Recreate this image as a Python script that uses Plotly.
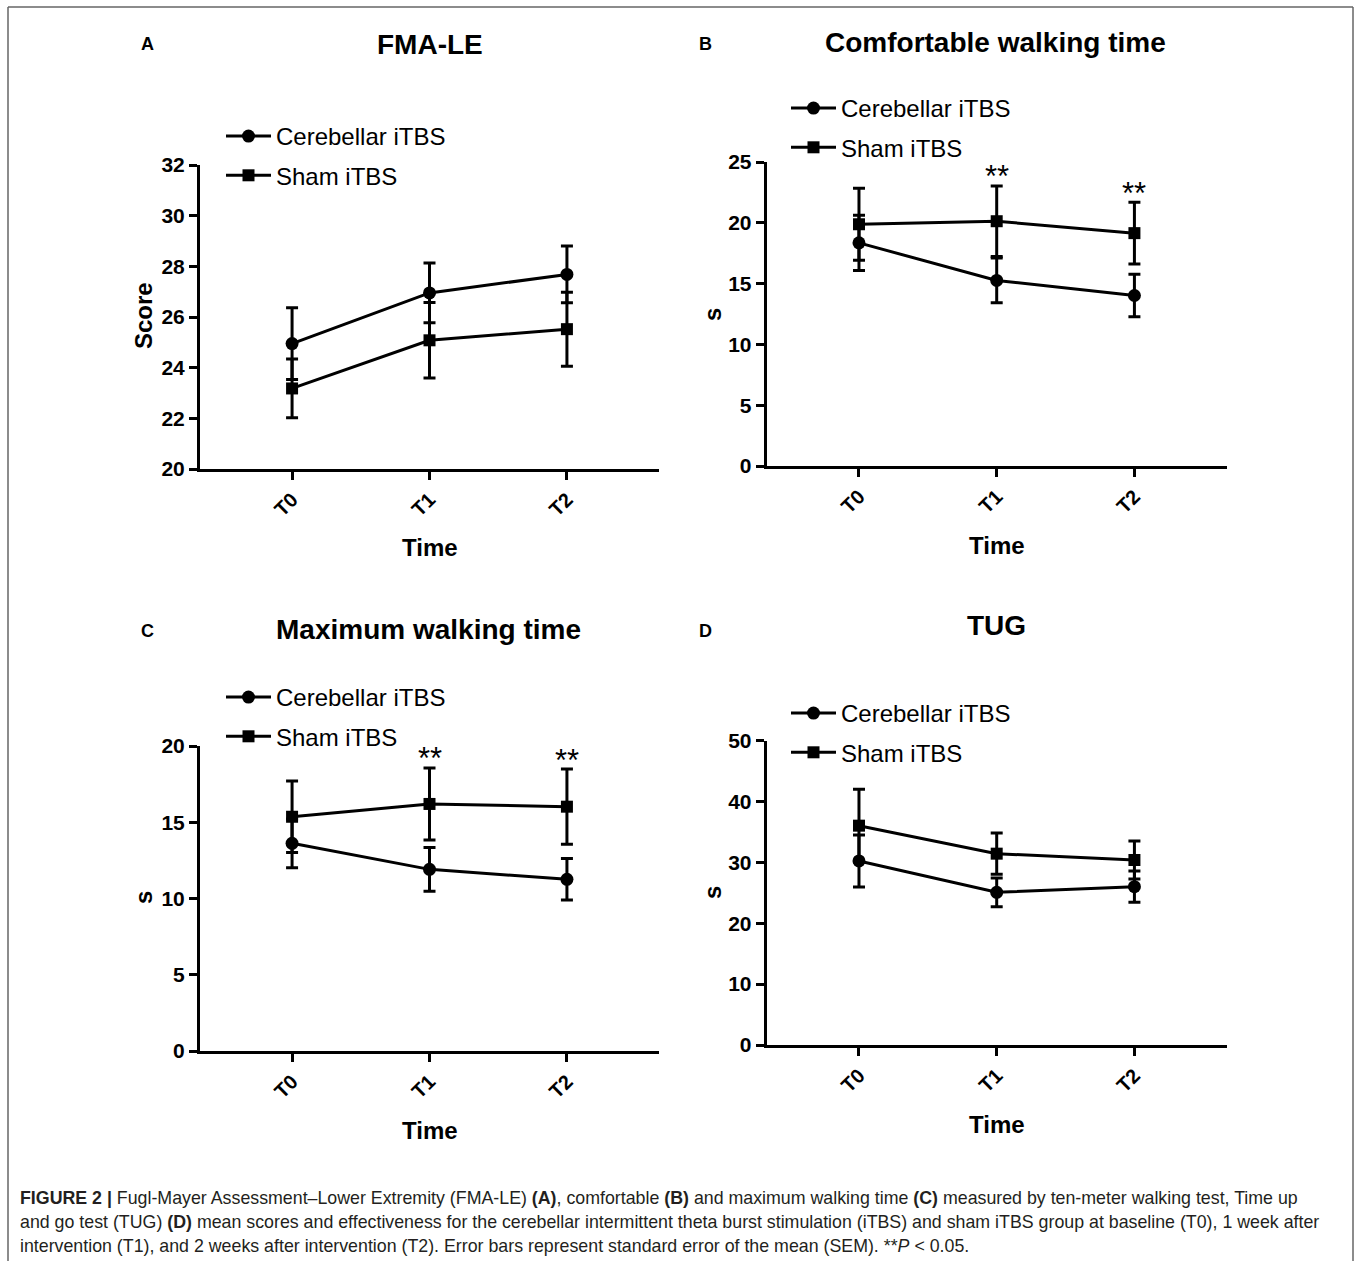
import plotly.graph_objects as go

W, H = 1358, 1261

times = ["T0", "T1", "T2"]

# Panel A: FMA-LE
fma_cer = [24.95, 26.95, 27.68]
fma_cer_sem = [1.42, 1.18, 1.12]
fma_sham = [23.18, 25.08, 25.52]
fma_sham_sem = [1.16, 1.49, 1.46]

# Panel B: comfortable walking time
cwt_cer = [18.35, 15.26, 14.02]
cwt_cer_sem = [2.27, 1.84, 1.75]
cwt_sham = [19.88, 20.13, 19.15]
cwt_sham_sem = [2.96, 2.90, 2.54]

# Panel C: maximum walking time
mwt_cer = [13.62, 11.91, 11.26]
mwt_cer_sem = [1.60, 1.44, 1.36]
mwt_sham = [15.36, 16.20, 16.02]
mwt_sham_sem = [2.34, 2.36, 2.47]

# Panel D: TUG
tug_cer = [30.24, 25.09, 26.02]
tug_cer_sem = [4.27, 2.36, 2.57]
tug_sham = [36.04, 31.44, 30.40]
tug_sham_sem = [5.98, 3.40, 3.12]

# significance markers (time points with **)
cwt_sig = ["T1", "T2"]
mwt_sig = ["T1", "T2"]

panel_titles = ["FMA-LE", "Comfortable walking time", "Maximum walking time", "TUG"]
panel_letters = ["A", "B", "C", "D"]
y_titles = ["Score", "s", "s", "s"]
group_names = ["Cerebellar iTBS", "Sham iTBS"]

FONT = "Liberation Sans, Arial, Helvetica, sans-serif"

def px(xp):
    return xp / W

def py(yp):
    return 1 - yp / H

fig = go.Figure()

panels = [
    dict(cer=fma_cer, cs=fma_cer_sem, sham=fma_sham, ss=fma_sham_sem, yr=[20, 32], dt=2,
         xd=[200, 659], yd=[469, 165], sig=[]),
    dict(cer=cwt_cer, cs=cwt_cer_sem, sham=cwt_sham, ss=cwt_sham_sem, yr=[0, 25], dt=5,
         xd=[766.7, 1226.7], yd=[466, 162], sig=cwt_sig),
    dict(cer=mwt_cer, cs=mwt_cer_sem, sham=mwt_sham, ss=mwt_sham_sem, yr=[0, 20], dt=5,
         xd=[200, 659], yd=[1051, 746], sig=mwt_sig),
    dict(cer=tug_cer, cs=tug_cer_sem, sham=tug_sham, ss=tug_sham_sem, yr=[0, 50], dt=10,
         xd=[766.7, 1226.7], yd=[1045, 740.7], sig=[]),
]

legend_pos = [(221, 114), (786, 86), (221, 675), (786, 691)]
title_pos = [(430, 45), (996, 43), (428, 629), (997, 625)]
letter_pos = [(147, 44), (705, 44), (147, 631), (705, 631)]
ytitle_pos = [(143, 316), (712, 315), (143, 898), (712, 893)]
xtitle_pos = [(430, 547), (997, 545), (430, 1130), (997, 1124)]

annotations = []
layout_axes = {}

for i, p in enumerate(panels):
    n = "" if i == 0 else str(i + 1)
    xa, ya = "x" + n, "y" + n
    lg = "legend" + n
    for name, vals, sem, sym, msize in [(group_names[0], p["cer"], p["cs"], "circle", 13),
                                         (group_names[1], p["sham"], p["ss"], "square", 12)]:
        fig.add_trace(go.Scatter(
            x=times, y=vals, name=name, mode="lines+markers",
            xaxis=xa, yaxis=ya, legend=lg, legendgroup=lg + name,
            line=dict(color="black", width=3),
            marker=dict(symbol=sym, size=msize, color="black"),
            error_y=dict(type="data", array=sem, visible=True, color="black",
                         thickness=3, width=6),
            cliponaxis=False,
        ))
    axis_common = dict(showline=True, linewidth=3, linecolor="black", ticks="outside",
                       ticklen=8, tickwidth=3, tickcolor="black", showgrid=False,
                       zeroline=False, fixedrange=True, automargin=False)
    layout_axes["xaxis" + n] = dict(
        axis_common, domain=[px(p["xd"][0]), px(p["xd"][1])], anchor=ya,
        type="category", range=[-0.67, 2.67], tickangle=-45,
        tickfont=dict(family=FONT, size=20, color="black", weight="bold"))
    layout_axes["yaxis" + n] = dict(
        axis_common, domain=[py(p["yd"][0]), py(p["yd"][1])], anchor=xa,
        range=p["yr"], dtick=p["dt"], tick0=0,
        tickfont=dict(family=FONT, size=21, color="black", weight="bold"))
    lx, ly = legend_pos[i]
    layout_axes[lg] = dict(x=px(lx), y=py(ly), xanchor="left", yanchor="top",
                           bgcolor="rgba(0,0,0,0)", itemwidth=45, tracegroupgap=5,
                           font=dict(family=FONT, size=24, color="black"),
                           itemclick=False, itemdoubleclick=False)
    # significance stars
    for t in p["sig"]:
        k = times.index(t)
        annotations.append(dict(x=t, y=p["sham"][k] + p["ss"][k], xref=xa, yref=ya,
                                text="**", showarrow=False, yanchor="middle", yshift=9,
                                font=dict(family=FONT, size=31, color="black")))
    tx, ty = title_pos[i]
    annotations.append(dict(x=px(tx), y=py(ty), xref="paper", yref="paper",
                            text="<b>" + panel_titles[i] + "</b>", showarrow=False,
                            xanchor="center", yanchor="middle",
                            font=dict(family=FONT, size=28, color="black")))
    lx2, ly2 = letter_pos[i]
    annotations.append(dict(x=px(lx2), y=py(ly2), xref="paper", yref="paper",
                            text="<b>" + panel_letters[i] + "</b>", showarrow=False,
                            xanchor="center", yanchor="middle",
                            font=dict(family=FONT, size=18, color="black")))
    yx, yy = ytitle_pos[i]
    annotations.append(dict(x=px(yx), y=py(yy), xref="paper", yref="paper",
                            text="<b>" + y_titles[i] + "</b>", showarrow=False,
                            textangle=-90, xanchor="center", yanchor="middle",
                            font=dict(family=FONT, size=24, color="black")))
    xx, xy = xtitle_pos[i]
    annotations.append(dict(x=px(xx), y=py(xy), xref="paper", yref="paper",
                            text="<b>Time</b>", showarrow=False,
                            xanchor="center", yanchor="middle",
                            font=dict(family=FONT, size=24, color="black")))

caption_lines = [
    "<b>FIGURE 2 |</b> Fugl-Mayer Assessment–Lower Extremity (FMA-LE) <b>(A)</b>, comfortable <b>(B)</b> and maximum walking time <b>(C)</b> measured by ten-meter walking test, Time up",
    "and go test (TUG) <b>(D)</b> mean scores and effectiveness for the cerebellar intermittent theta burst stimulation (iTBS) and sham iTBS group at baseline (T0), 1 week after",
    "intervention (T1), and 2 weeks after intervention (T2). Error bars represent standard error of the mean (SEM). **<i>P</i> &lt; 0.05.",
]
caption_y = [1198, 1222, 1246]
CAPFONT = "Liberation Sans, Arial, sans-serif"
for line, yv in zip(caption_lines, caption_y):
    annotations.append(dict(x=px(18), y=py(yv), xref="paper", yref="paper",
                            text=line, showarrow=False, xanchor="left", yanchor="middle",
                            align="left", font=dict(family=CAPFONT, size=17.8, color="#231f20")))

shapes = [
    dict(type="line", xref="paper", yref="paper", x0=px(8), x1=px(8), y0=py(7), y1=0,
         line=dict(color="#666666", width=1.5)),
    dict(type="line", xref="paper", yref="paper", x0=px(8), x1=px(1353), y0=py(7), y1=py(7),
         line=dict(color="#666666", width=1.5)),
    dict(type="line", xref="paper", yref="paper", x0=px(1353), x1=px(1353), y0=py(7), y1=0,
         line=dict(color="#666666", width=1.5)),
]

fig.update_layout(
    width=W, height=H, autosize=False,
    margin=dict(l=0, r=0, t=0, b=0, pad=0, autoexpand=False),
    paper_bgcolor="white", plot_bgcolor="white",
    showlegend=True,
    annotations=annotations, shapes=shapes,
    **layout_axes,
)

post = ("document.documentElement.style.margin='0';document.documentElement.style.padding='0';"
        "document.body.style.margin='0';document.body.style.padding='0';"
        "document.body.style.overflow='hidden';document.documentElement.style.overflow='hidden';"
        "var gd=document.getElementById('{plot_id}');"
        "gd.style.position='fixed';gd.style.left='0px';gd.style.top='0px';")
fig.write_html("out.html", post_script=post, config={"displayModeBar": False})
